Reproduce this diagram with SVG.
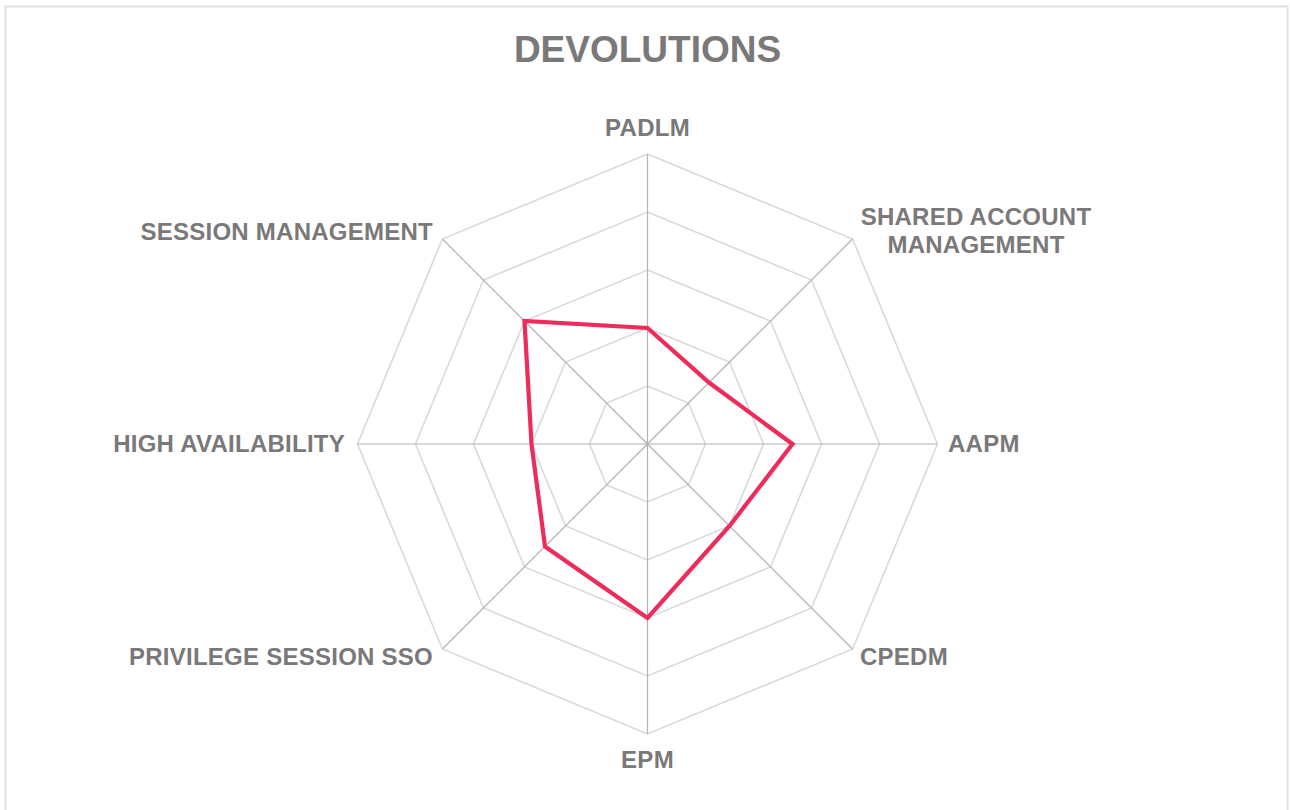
<svg xmlns="http://www.w3.org/2000/svg" width="1290" height="810" viewBox="0 0 1290 810">
<style>
.ring{fill:none;stroke:#d9d9d9;stroke-width:1.6}
.spoke{stroke:#b3b3b3;stroke-width:1.2}
.lbl{font-family:"Liberation Sans",Arial,sans-serif;font-weight:bold;font-size:24px;letter-spacing:0.25px;fill:#7a7878}
.title{font-family:"Liberation Sans",Arial,sans-serif;font-weight:bold;font-size:37px;fill:#7a7878}
.data{fill:none;stroke:#ee2b5b;stroke-width:4.2;stroke-linejoin:miter}
</style>
<rect x="0" y="0" width="1290" height="810" fill="#ffffff"/>
<rect x="5.5" y="6.5" width="1282" height="820" fill="none" stroke="#e0e0e6" stroke-width="2"/>
<text id="title" class="title" x="647.5" y="62" text-anchor="middle">DEVOLUTIONS</text>
<g id="grid">
<polygon class="ring" points="647.5,386 688.5,403 705.5,444 688.5,485 647.5,502 606.5,485 589.5,444 606.5,403"/>
<polygon class="ring" points="647.5,328 729.5,362 763.5,444 729.5,526 647.5,560 565.5,526 531.5,444 565.5,362"/>
<polygon class="ring" points="647.5,270 770.5,321 821.5,444 770.5,567 647.5,618 524.5,567 473.5,444 524.5,321"/>
<polygon class="ring" points="647.5,212 811.6,280 879.5,444 811.6,608 647.5,676 483.4,608 415.5,444 483.4,280"/>
<polygon class="ring" points="647.5,154 852.6,239 937.5,444 852.6,649 647.5,734 442.4,649 357.5,444 442.4,239"/>
</g>
<g id="axes">
<line class="spoke" x1="647.5" y1="444" x2="647.5" y2="154"/>
<line class="spoke" x1="647.5" y1="444" x2="852.6" y2="239"/>
<line class="spoke" x1="647.5" y1="444" x2="937.5" y2="444"/>
<line class="spoke" x1="647.5" y1="444" x2="852.6" y2="649"/>
<line class="spoke" x1="647.5" y1="444" x2="647.5" y2="734"/>
<line class="spoke" x1="647.5" y1="444" x2="442.4" y2="649"/>
<line class="spoke" x1="647.5" y1="444" x2="357.5" y2="444"/>
<line class="spoke" x1="647.5" y1="444" x2="442.4" y2="239"/>
</g>
<g id="series">
<polygon class="data" points="647.5,328 709,382.5 792.5,444 729.5,526 647.5,618 545,546.5 531.5,444 524.5,321"/>
</g>
<g id="labels">
<g id="padlm"><text class="lbl" x="647.5" y="136" text-anchor="middle">PADLM</text></g>
<g id="shared"><text class="lbl" x="976" y="225" text-anchor="middle">SHARED ACCOUNT<tspan x="976" dy="28">MANAGEMENT</tspan></text></g>
<g id="aapm"><text class="lbl" x="948" y="452" text-anchor="start">AAPM</text></g>
<g id="cpedm"><text class="lbl" x="860" y="665" text-anchor="start">CPEDM</text></g>
<g id="epm"><text class="lbl" x="647.5" y="768" text-anchor="middle">EPM</text></g>
<g id="sso"><text class="lbl" x="433" y="665" text-anchor="end">PRIVILEGE SESSION SSO</text></g>
<g id="ha"><text class="lbl" x="345" y="452" text-anchor="end">HIGH AVAILABILITY</text></g>
<g id="sm"><text class="lbl" x="433" y="240" text-anchor="end">SESSION MANAGEMENT</text></g>
</g>
</svg>
